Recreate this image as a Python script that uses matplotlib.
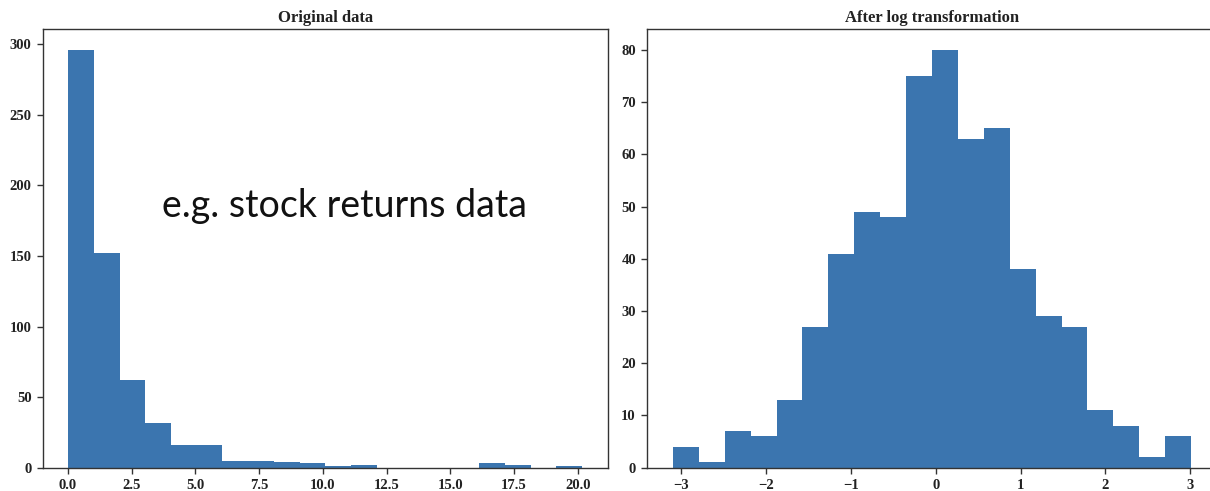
import numpy as np
import matplotlib
matplotlib.use("Agg")
import matplotlib.pyplot as plt

# ---- data ----
orig_counts = [296, 152, 62, 32, 16, 16, 5, 5, 4, 3, 1, 2, 0, 0, 0, 0, 3, 2, 0, 1]
orig_range = (0.02, 20.17)
log_counts = [4, 1, 7, 6, 13, 27, 41, 49, 48, 75, 80, 63, 65, 38, 29, 27, 11, 8, 2, 6]
log_range = (-3.10, 3.01)
orig_xticks = [0.0, 2.5, 5.0, 7.5, 10.0, 12.5, 15.0, 17.5, 20.0]
orig_yticks = [0, 50, 100, 150, 200, 250, 300]
log_xticks = [-3, -2, -1, 0, 1, 2, 3]
log_yticks = [0, 10, 20, 30, 40, 50, 60, 70, 80]
titles = ["Original data", "After log transformation"]
overlay_text = "e.g. stock returns data"

W, H = 1210, 491
fig = plt.figure(figsize=(W / 100, H / 100), dpi=100)
bar_color = "#3b75af"
serif = ["Liberation Serif", "DejaVu Serif"]

def draw(ax, counts, rng, xticks, yticks, title, xfmt):
    edges = np.linspace(rng[0], rng[1], len(counts) + 1)
    ax.bar(edges[:-1], counts, width=np.diff(edges), align="edge",
           color=bar_color, linewidth=0)
    ax.set_xticks(xticks)
    ax.set_xticklabels([xfmt(v) for v in xticks])
    ax.set_yticks(yticks)
    ax.set_yticklabels([str(v) for v in yticks])
    for lab in ax.get_xticklabels() + ax.get_yticklabels():
        lab.set_family(serif)
        lab.set_fontweight("bold")
        lab.set_fontsize(10.5)
        lab.set_color("#222222")
    ax.tick_params(direction="out", length=4, width=1.0, color="#333333", pad=4)
    for s in ax.spines.values():
        s.set_color("#333333")
        s.set_linewidth(1.0)
    ax.set_title(title, family=serif, fontweight="bold", fontsize=12,
                 color="#222222", pad=5)

ax1 = fig.add_axes([42.7 / W, (H - 467.7) / H, 565 / W, (467.7 - 29) / H])
draw(ax1, orig_counts, orig_range, orig_xticks, orig_yticks, titles[0],
     lambda v: f"{v:.1f}")

ax2 = fig.add_axes([647 / W, (H - 467.7) / H, 570 / W, (467.7 - 29) / H])
draw(ax2, log_counts, log_range, log_xticks, log_yticks, titles[1],
     lambda v: f"\u2212{abs(v)}" if v < 0 else str(v))

fig.text(161.7 / W, (H - 216.7) / H, overlay_text, family=["Lato", "DejaVu Sans"],
         fontsize=27, color="#111111", va="baseline", ha="left")

fig.savefig("out.png", dpi=100)
